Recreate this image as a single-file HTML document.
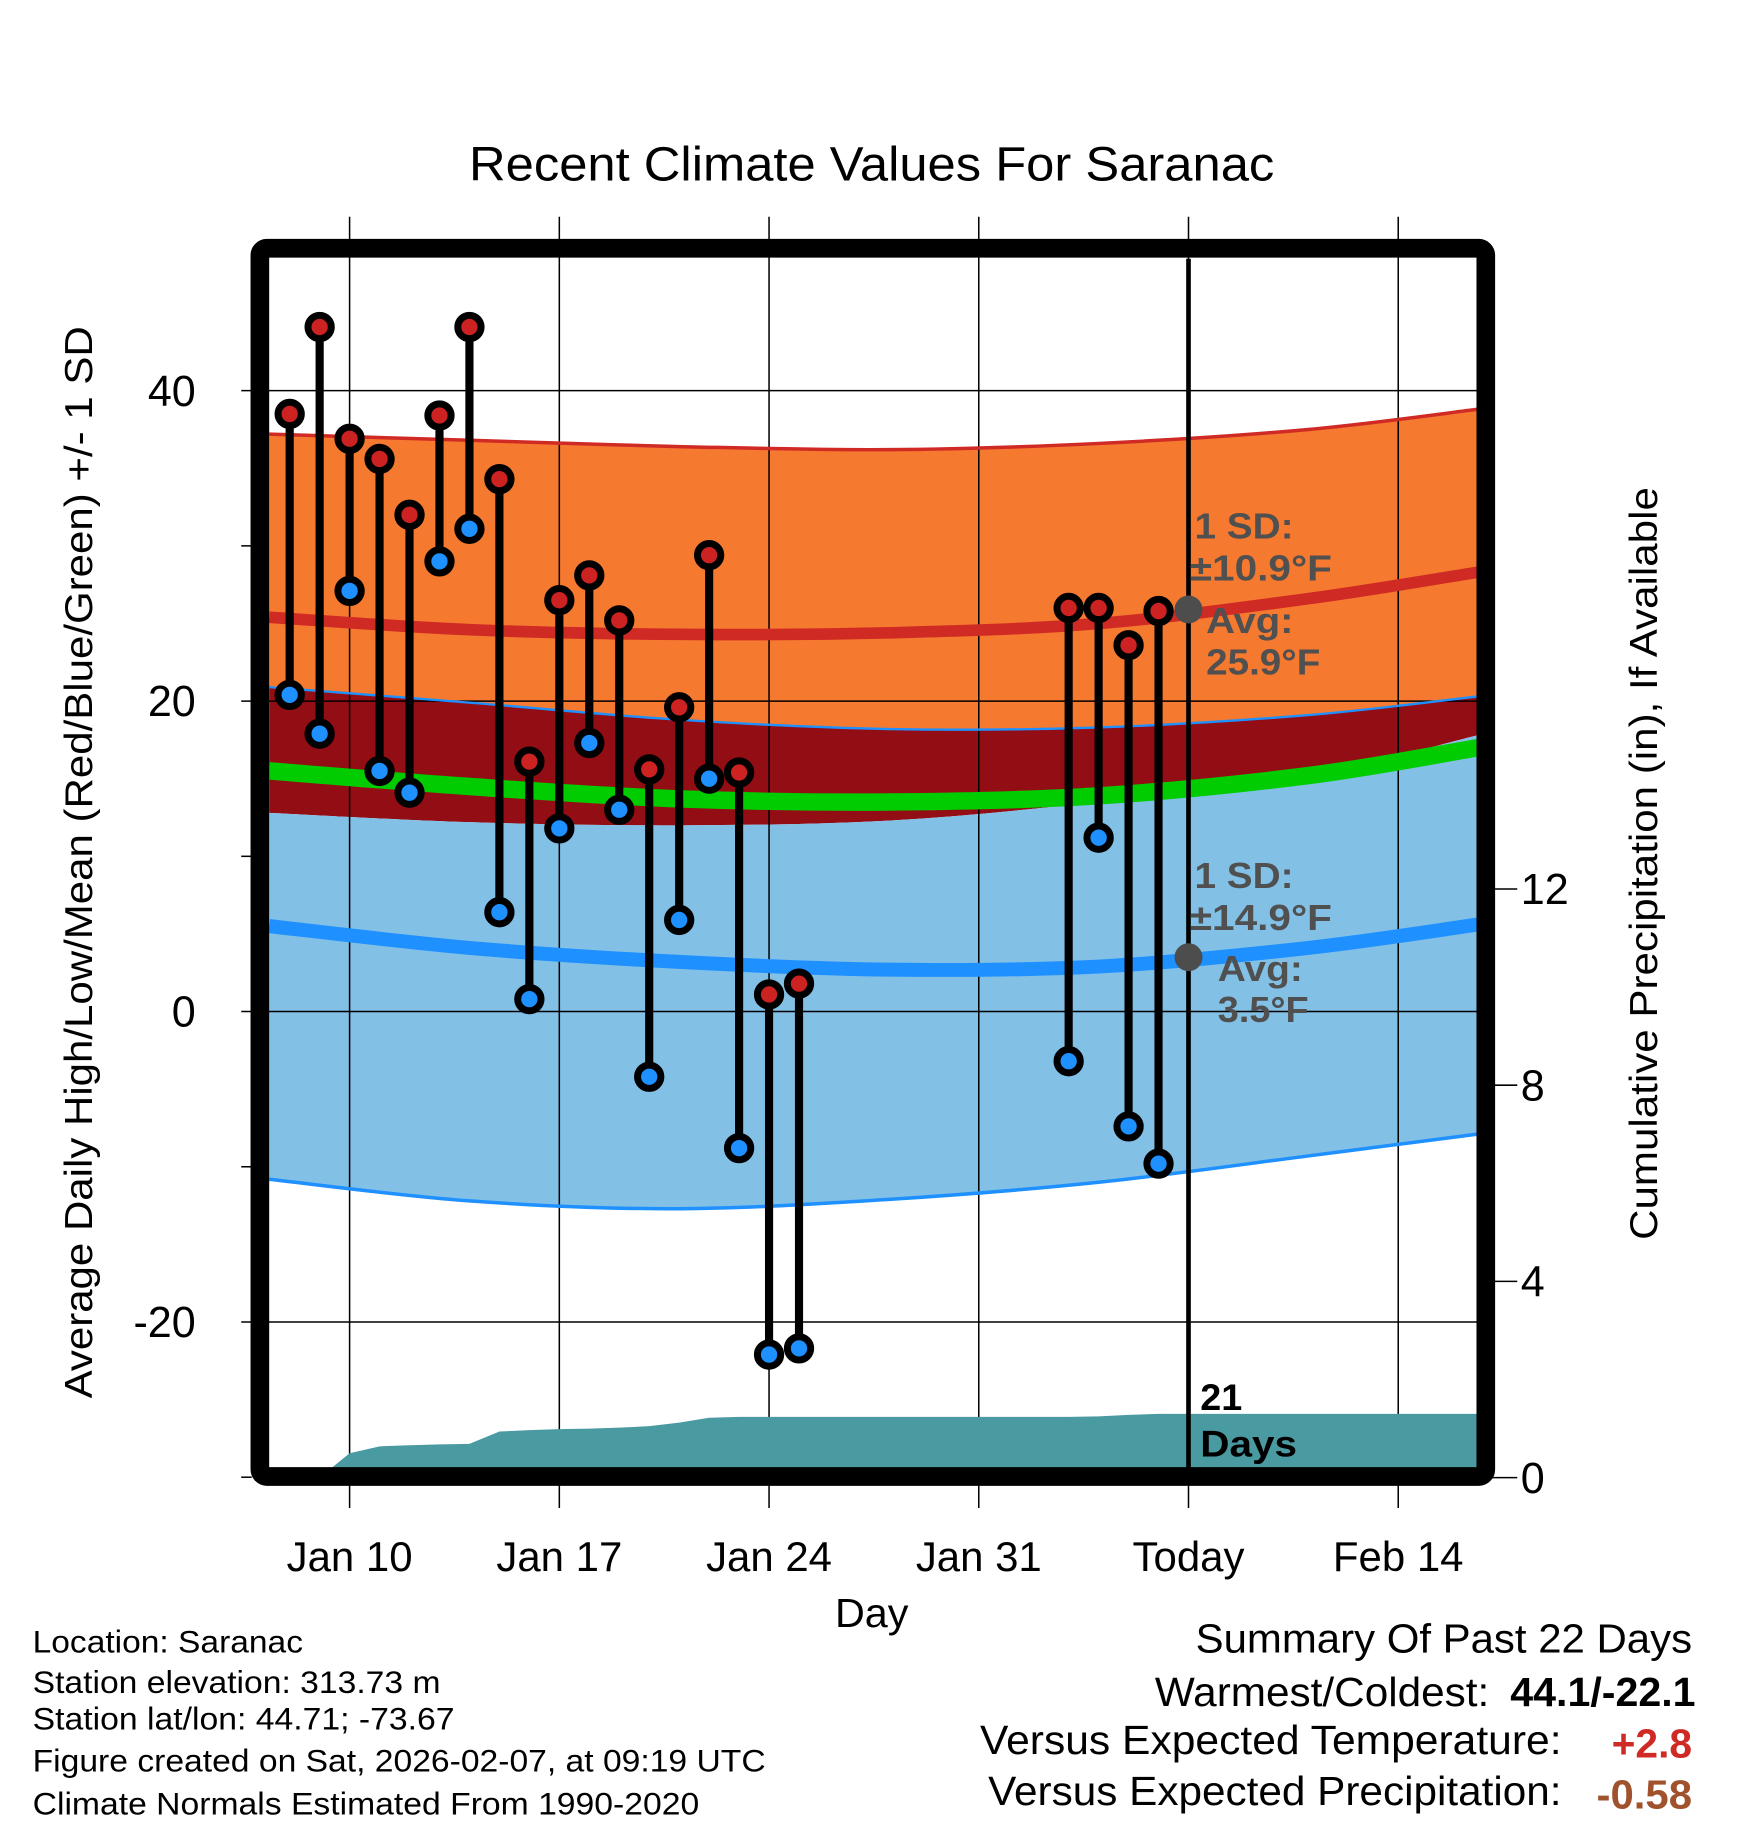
<!DOCTYPE html>
<html><head><meta charset="utf-8"><style>
html,body{margin:0;padding:0;background:#fff}
svg{display:block}
text{font-family:"Liberation Sans",sans-serif}
</style></head><body>
<svg id="chart" width="1748" height="1828" viewBox="0 0 1500 1568.6" xmlns="http://www.w3.org/2000/svg">
<g id="bands"></g><g id="grid"></g><g id="precip"></g><g id="lines"></g><g id="marks"></g><g id="frame"></g><g id="labels"></g>
</svg>
<script>
// ---- data ----
const dayOffsets = [-2,-1,0,1,2,3,4,5,6,7,8,9,10,11,12,13,14,15,24,25,26,27]; // days after Jan 10
const highs = [38.5,44.1,36.9,35.6,32.0,38.4,44.1,34.3,16.1,26.5,28.1,25.2,15.6,19.6,29.4,15.4,1.1,1.8,26.0,26.0,23.6,25.8];
const lows  = [20.4,17.9,27.1,15.5,14.1,29.0,31.1,6.4,0.8,11.8,17.3,13.0,-4.2,5.9,15.0,-8.8,-22.1,-21.7,-3.2,11.2,-7.4,-9.8];
const precipDays = [-1,0,1,2,3,4,5,6,7,8,9,10,11,12,13,14,15,24,25,26,27,28,38];
const precipCum  = [0,0.5,0.64,0.66,0.68,0.69,0.94,0.97,0.99,1.0,1.02,1.05,1.12,1.22,1.24,1.24,1.24,1.24,1.25,1.28,1.3,1.3,1.3];
const normDays   = [-3,4,11,18,25,32,38];
const highUpper  = [37.2,36.8,36.4,36.2,36.6,37.5,38.8];
const highMean   = [25.4,24.6,24.3,24.4,25.0,26.6,28.3];
const lowUpper   = [20.9,19.9,18.8,18.2,18.3,19.1,20.3];
const highLower  = [12.8,12.2,12.0,12.3,13.5,15.2,17.8];
const meanLine   = [15.5,14.5,13.7,13.5,13.9,15.2,17.0];
const lowMean    = [5.5,4.1,3.2,2.7,2.9,4.1,5.6];
const lowLower   = [-10.8,-12.2,-12.7,-12.1,-11.0,-9.3,-7.9];
const xTickDays  = [0,7,14,21,28,35];
const xTickLabels= ["Jan 10","Jan 17","Jan 24","Jan 31","Today","Feb 14"];
const yTicks     = [40,20,0,-20];
const yMinor     = [30,10,-10,-30];
const pTicks     = [0,4,8,12];
const todayDay = 28, todayHighAvg = 25.9, todayLowAvg = 3.5;

// ---- scales ----
const PL=231, PR=1268, PT=222, PB=1260;
const x = d => 300 + 25.71*d;
const y = v => 868 - 13.32*v;
const yp = p => 1268 - 42.1*p;
const NS="http://www.w3.org/2000/svg";
function mk(tag, attrs, parent){const e=document.createElementNS(NS,tag);for(const k in attrs)e.setAttribute(k,attrs[k]);parent.appendChild(e);return e;}
const G=id=>document.getElementById(id);
const cx = d => Math.max(PL, Math.min(PR, x(d)));
function smooth(pts, move){
  let s = (move?'M':'L')+pts[0][0].toFixed(1)+','+pts[0][1].toFixed(1);
  for(let i=0;i<pts.length-1;i++){
    const p0=pts[Math.max(0,i-1)],p1=pts[i],p2=pts[i+1],p3=pts[Math.min(pts.length-1,i+2)];
    const c1=[p1[0]+(p2[0]-p0[0])/6,p1[1]+(p2[1]-p0[1])/6];
    const c2=[p2[0]-(p3[0]-p1[0])/6,p2[1]-(p3[1]-p1[1])/6];
    s+=' C'+c1.map(v=>v.toFixed(1)).join(',')+' '+c2.map(v=>v.toFixed(1)).join(',')+' '+p2[0].toFixed(1)+','+p2[1].toFixed(1);
  }
  return s;
}
const pts = vals => normDays.map((d,i)=>[cx(d),y(vals[i])]);
function pathLine(vals){return smooth(pts(vals),true);}
function pathBand(top,bot){return smooth(pts(top),true)+' '+smooth(pts(bot).reverse(),false)+' Z';}
let e;
e=mk('path',{d:pathBand(highUpper,lowUpper),fill:'#f5792f'},G('bands'));

e=mk('path',{d:pathBand(lowUpper,highLower),fill:'#930d14'},G('bands'));

e=mk('path',{d:pathBand(highLower,lowLower),fill:'#82c0e6'},G('bands'));

// grid
yTicks.forEach(v=>{
  e=mk('line',{x1:207,x2:PR,y1:y(v),y2:y(v),stroke:'#000','stroke-width':1.3},G('grid'));
  
});
yMinor.forEach(v=>{mk('line',{x1:207,x2:216,y1:y(v),y2:y(v),stroke:'#000','stroke-width':1.3},G('grid'));});
pTicks.forEach(p=>{
  e=mk('line',{x1:1280,x2:1302,y1:yp(p),y2:yp(p),stroke:'#000','stroke-width':1.3},G('grid'));
  
});
xTickDays.forEach(d=>{
  e=mk('line',{x1:x(d),x2:x(d),y1:186,y2:1294,stroke:'#000','stroke-width':1.3},G('grid'));
  
});
// precip
let ps='M'+x(precipDays[0])+','+yp(0);
precipDays.forEach((d,i)=>{ps+=' L'+cx(d).toFixed(1)+','+yp(precipCum[i]).toFixed(1);});
ps+=' L'+PR+','+yp(0)+' Z';
e=mk('path',{d:ps,fill:'#4a9aa2'},G('precip'));

// lines
[[highUpper,'#d02a25',3,'high-upper-line'],[lowUpper,'#1e90ff',2,'low-upper-line'],[lowLower,'#1e90ff',3,'low-lower-line'],
 [highMean,'#d02a25',10,'high-mean-line'],[meanLine,'#00cc00',15,'mean-line'],[lowMean,'#1e90ff',12,'low-mean-line']].forEach(a=>{
  e=mk('path',{d:pathLine(a[0]),fill:'none',stroke:a[1],'stroke-width':a[2]},G('lines'));
  
});
e=mk('line',{x1:x(todayDay),x2:x(todayDay),y1:PT,y2:PB,stroke:'#000','stroke-width':4},G('lines'));

// marks
dayOffsets.forEach((d,i)=>{
  const g=mk('g',{},G('marks'));
  
  mk('line',{x1:x(d),x2:x(d),y1:y(highs[i]),y2:y(lows[i]),stroke:'#000','stroke-width':7},g);
  e=mk('circle',{cx:x(d),cy:y(highs[i]),r:10,fill:'#cc2222',stroke:'#000','stroke-width':6},g);
  
  e=mk('circle',{cx:x(d),cy:y(lows[i]),r:10,fill:'#1e90ff',stroke:'#000','stroke-width':6},g);
  
});
e=mk('circle',{cx:x(todayDay),cy:y(todayHighAvg),r:12,fill:'#4d4d4d'},G('marks'));

e=mk('circle',{cx:x(todayDay),cy:y(todayLowAvg),r:12,fill:'#4d4d4d'},G('marks'));

// frame
e=mk('rect',{x:223,y:213,width:1052,height:1054,rx:6,fill:'none',stroke:'#000','stroke-width':16},G('frame'));

// labels
function T(txt,xx,yy,opts,name,len){
  const o=Object.assign({x:xx,y:yy},opts);
  if(len){o.textLength=len;o.lengthAdjust='spacingAndGlyphs';}
  const t=mk('text',o,G('labels'));t.textContent=txt;
  return t;}
yTicks.forEach(v=>T(String(v),168,y(v)+13,{'font-size':37,'text-anchor':'end'},'y-tick-label'));
pTicks.forEach(p=>T(String(p),1305,yp(p)+13,{'font-size':37},'precip-tick-label'));
xTickDays.forEach((d,i)=>T(xTickLabels[i],x(d),1348,{'font-size':36,'text-anchor':'middle'},'x-tick-label'));
T('Day',748,1396,{'font-size':35,'text-anchor':'middle'},'x-axis-title',63);
T('Recent Climate Values For Saranac',748,155,{'font-size':41,'text-anchor':'middle'},'chart-title',691);
T('Average Daily High/Low/Mean (Red/Blue/Green) +/- 1 SD',0,0,{'font-size':33,'text-anchor':'middle',transform:'translate(79,740) rotate(-90)'},'y-axis-title',920);
T('Cumulative Precipitation (in), If Available',0,0,{'font-size':33,'text-anchor':'middle',transform:'translate(1422,741) rotate(-90)'},'precip-axis-title',646);
const an={'font-size':31,'font-weight':'bold',fill:'#505050'};
T('1 SD:',1025,462,an,'high-sd-label',85);
T('\u00b110.9\u00b0F',1021,498,an,'high-sd-value',122);
T('Avg:',1035,543,an,'high-avg-label',75);
T('25.9\u00b0F',1035,579,an,'high-avg-value',98);
T('1 SD:',1025,762,an,'low-sd-label',85);
T('\u00b114.9\u00b0F',1021,798,an,'low-sd-value',122);
T('Avg:',1045,842,an,'low-avg-label',73);
T('3.5\u00b0F',1045,877,an,'low-avg-value',78);
T('21',1030,1210,{'font-size':32,'font-weight':'bold'},'days-count',36);
T('Days',1030,1250,{'font-size':32,'font-weight':'bold'},'days-label',83);
const fl={'font-size':27};
const ftxt=['Location: Saranac','Station elevation: 313.73 m','Station lat/lon: 44.71; -73.67','Figure created on Sat, 2026-02-07, at 09:19 UTC','Climate Normals Estimated From 1990-2020'];
const flen=[232,350,362,629,572];
ftxt.forEach((s,i)=>T(s,28,[1418,1453,1484,1520,1557][i],fl,'footer-info-line',flen[i]));
T('Summary Of Past 22 Days',1452,1418,{'font-size':35,'text-anchor':'end'},'summary-title',426);
T('Warmest/Coldest:',1278,1464,{'font-size':35,'text-anchor':'end'},'warmest-coldest-label',287);
T('44.1/-22.1',1455,1464,{'font-size':35,'font-weight':'bold','text-anchor':'end'},'warmest-coldest-value',159);
T('Versus Expected Temperature:',1340,1505,{'font-size':35,'text-anchor':'end'},'temp-anomaly-label',499);
T('+2.8',1452,1508,{'font-size':35,'font-weight':'bold','text-anchor':'end',fill:'#d02a25'},'temp-anomaly-value',69);
T('Versus Expected Precipitation:',1340,1549,{'font-size':35,'text-anchor':'end'},'precip-anomaly-label',492);
T('-0.58',1452,1552,{'font-size':35,'font-weight':'bold','text-anchor':'end',fill:'#a0522d'},'precip-anomaly-value',82);
</script>
</body></html>
